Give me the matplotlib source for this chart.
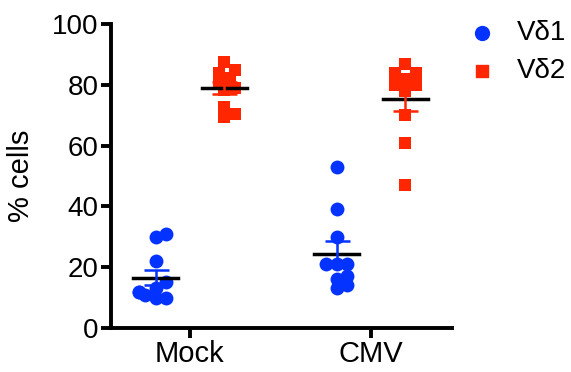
import numpy as np
import matplotlib
matplotlib.use("Agg")
import matplotlib.pyplot as plt

plt.rcParams['font.family'] = ['Liberation Sans', 'DejaVu Sans']

groups = ['Mock', 'CMV']
mock_vd1 = [30, 31, 22, 15, 13, 11, 10, 10, 12, 12]
mock_vd2 = [87.6, 85, 83.8, 82.3, 80.7, 78.8, 78.3, 72.8, 69.3, 70.4]
cmv_vd1 = [53, 39, 30, 21, 21, 21, 17, 16, 13, 14]
cmv_vd2 = [87, 84, 84, 82, 80, 78, 70, 61, 47, 80]

blue = '#0433ff'
red = '#ff2600'

fig = plt.figure(figsize=(5.71, 3.72), dpi=100)
ax = fig.add_axes([111 / 571, 1 - 328 / 372, (452 - 111) / 571, (328 - 24) / 372])
ax.set_xlim(-0.436, 1.448)
ax.set_ylim(0, 100)

# pixels per data unit, used to spread overlapping points a little
px_x = 341 / (1.448 + 0.436)
px_y = 304 / 100


def spread(vals, centre, gap=9.0):
    placed = []
    xs = np.zeros(len(vals))
    order = np.argsort(vals)
    for i in order:
        for k in [0, 1, -1, 2, -2, 3, -3]:
            ox = k * gap * 0.6
            ok = all(np.hypot(ox - px, (vals[i] - py) * px_y) >= gap for px, py in placed)
            if ok:
                break
        placed.append((ox, vals[i]))
        xs[i] = centre + ox / px_x
    return xs


def draw(vals, centre, color, marker, size):
    vals = np.array(vals, dtype=float)
    xs = spread(vals, centre)
    ax.scatter(xs, vals, s=size, color=color, marker=marker, linewidths=0, zorder=3)
    m = vals.mean()
    sem = vals.std(ddof=1) / np.sqrt(len(vals))
    ax.plot([centre - 0.125, centre + 0.125], [m, m], color='black', lw=2.5, zorder=4)
    ax.errorbar([centre], [m], yerr=[sem], color=color, lw=1.8, capsize=9,
                capthick=1.8, zorder=5)


draw(mock_vd1, -0.19, blue, 'o', 100)
draw(mock_vd2, 0.19, red, 's', 85)
draw(cmv_vd1, 0.81, blue, 'o', 100)
draw(cmv_vd2, 1.19, red, 's', 85)

ax.scatter([], [], s=100, color=blue, marker='o', label='Vδ1')
ax.scatter([], [], s=85, color=red, marker='s', label='Vδ2')
fig.legend(loc='upper left', bbox_to_anchor=(468 / 571, 0.945), frameon=False,
           fontsize=20, handletextpad=0.76, labelspacing=0.42, handlelength=1.0,
           borderpad=0, borderaxespad=0)

for s in ['top', 'right']:
    ax.spines[s].set_visible(False)
for s in ['left', 'bottom']:
    ax.spines[s].set_linewidth(2.8)
ax.set_xticks([0, 1])
ax.set_xticklabels(groups)
ax.set_yticks([0, 20, 40, 60, 80, 100])
ax.tick_params(axis='both', labelsize=21, width=2.8, length=7, pad=2)
ax.tick_params(axis='y', labelsize=20)
ax.set_ylabel('% cells', fontsize=21)
ax.yaxis.set_label_coords(-0.222, 0.5)

fig.savefig('out.png', dpi=100)
